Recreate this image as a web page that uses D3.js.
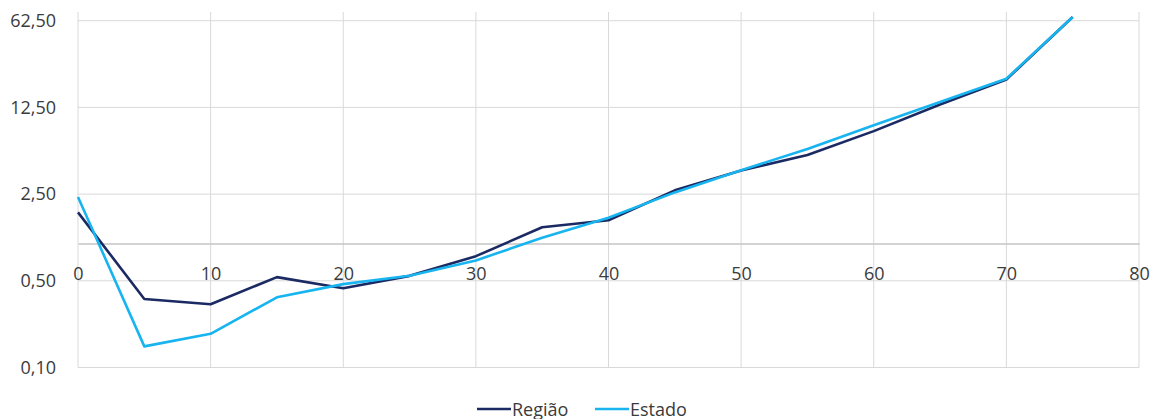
<!DOCTYPE html>
<html><head><meta charset="utf-8">
<script src="https://cdn.jsdelivr.net/npm/d3@7"></script>
<style>body{margin:0;background:#fff;} text{font-family:"Open Sans","Noto Sans",sans-serif;}</style>
</head><body><svg id="c" width="1152" height="419"></svg>
<script>
const xValues = [0,5,10,15,20,25,30,35,40,45,50,55,60,65,70,75];
const regiao = [1.78,0.357,0.324,0.535,0.435,0.548,0.79,1.35,1.54,2.68,3.87,5.17,8.05,13.2,21.0,67];
const estado = [2.37,0.148,0.187,0.368,0.47,0.55,0.73,1.11,1.61,2.58,3.9,5.77,8.98,13.8,21.3,67];
const yTicks = [0.1,0.5,2.5,12.5,62.5];
const xTicks = [0,10,20,30,40,50,60,70,80];
const seriesNames = ["Região","Estado"];
const colors = ["#1b2a63","#17b4f0"];

const svg = d3.select("#c");
const x = d3.scaleLinear().domain([0,80]).range([78,1139]);
const y = d3.scaleLog().base(5).domain([0.1,62.5]).range([367.5,20.7]);
const plotTop = 12;
const fs = 18, tc = "#3b3b3b";

svg.append("g").selectAll("line").data(xTicks).join("line")
  .attr("x1",d=>x(d)).attr("x2",d=>x(d)).attr("y1",plotTop).attr("y2",y(0.1))
  .attr("stroke","#d9d9d9").attr("stroke-width",1);
svg.append("g").selectAll("line").data(yTicks).join("line")
  .attr("x1",x(0)).attr("x2",x(80)).attr("y1",d=>y(d)).attr("y2",d=>y(d))
  .attr("stroke","#d9d9d9").attr("stroke-width",1);

const yAxis = d3.axisLeft(y).tickValues(yTicks).tickSize(0).tickPadding(0)
  .tickFormat(d=>d3.format(".2f")(d).replace(".",","));
const ya = svg.append("g").attr("transform","translate(56,0)").call(yAxis);
ya.select(".domain").remove();
ya.selectAll("text").attr("font-size",fs).attr("fill",tc).attr("font-family","Open Sans, Noto Sans, sans-serif");

const xAxis = d3.axisBottom(x).tickValues(xTicks).tickSize(0).tickPadding(0);
const xa = svg.append("g").attr("transform",`translate(0,${y(1)})`).call(xAxis);
xa.select(".domain").attr("stroke","#c4c4c4").attr("stroke-width",1.4);
xa.selectAll("text").attr("font-size",fs).attr("fill",tc).attr("dy","0").attr("y",37)
  .attr("font-family","Open Sans, Noto Sans, sans-serif");

const line = d3.line().x((d,i)=>x(xValues[i])).y(d=>y(d));
[regiao, estado].forEach((s,i)=>{
  svg.append("path").datum(s).attr("d",line).attr("fill","none")
    .attr("stroke",colors[i]).attr("stroke-width",2.6).attr("stroke-linejoin","round");
});

const leg = svg.append("g");
const legX = [477, 595];
seriesNames.forEach((n,i)=>{
  leg.append("line").attr("x1",legX[i]).attr("x2",legX[i]+34).attr("y1",409).attr("y2",409)
    .attr("stroke",colors[i]).attr("stroke-width",2.6);
  leg.append("text").attr("x",legX[i]+35).attr("y",415.5).attr("font-size",fs).attr("fill",tc).text(n);
});
</script></body></html>
